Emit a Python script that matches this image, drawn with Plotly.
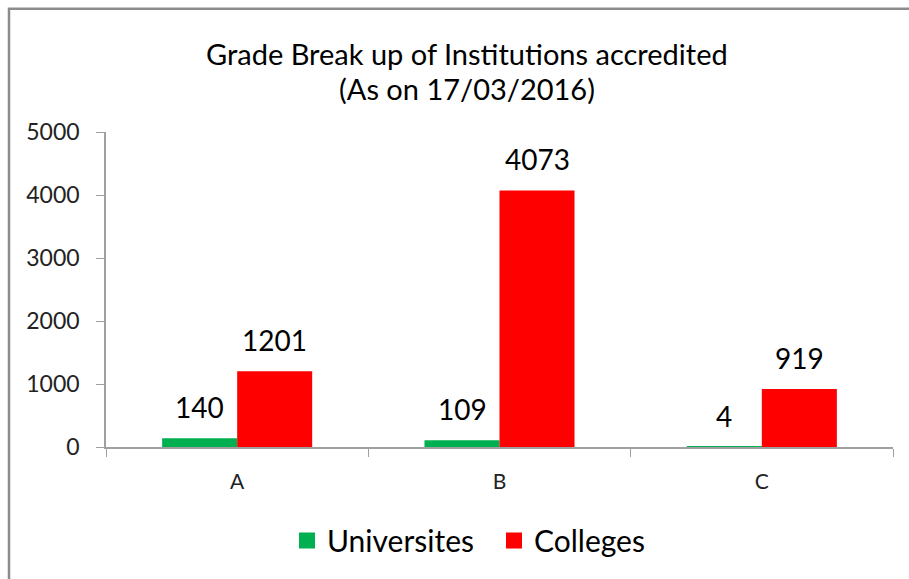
import plotly.graph_objects as go

categories = ["A", "B", "C"]
universities = [140, 109, 4]
colleges = [1201, 4073, 919]
series_names = ["Universites", "Colleges"]
series_colors = ["#00B050", "#FF0000"]
title_lines = ["Grade Break up of Institutions accredited", "(As on 17/03/2016)"]

W, H = 909, 579
L, R, T, B = 106, 16, 132, 130
pw = W - L - R
ph = H - T - B
BAR_PX = 75  # half-group offset in pixels

fig = go.Figure()
for name, vals, col in zip(series_names, [universities, colleges], series_colors):
    fig.add_trace(go.Bar(
        x=categories, y=vals, name=name, showlegend=False,
        marker=dict(color=col, line=dict(width=0)),
    ))
    # legend proxy with larger square symbol
    fig.add_trace(go.Scatter(
        x=[None], y=[None], mode="markers", name=name, showlegend=True,
        marker=dict(symbol="square", size=18, color=col),
    ))

annotations = []
for shift, vals in zip([-BAR_PX / 2, BAR_PX / 2], [universities, colleges]):
    for c, v in zip(categories, vals):
        annotations.append(dict(
            x=c, y=v, xref="x", yref="y", text=str(v), showarrow=False,
            xanchor="center", yanchor="bottom", xshift=shift, yshift=12,
            font=dict(size=28, color="black", family="Lato"),
        ))

# chart title lines as paper annotations for exact placement
for line, ypx in zip(title_lines, [53, 88]):
    annotations.append(dict(
        text=line, xref="paper", yref="paper",
        x=(467 - L) / pw, y=(H - B - ypx) / ph, xanchor="center", yanchor="middle",
        showarrow=False, align="center",
        font=dict(size=29, color="black", family="Lato"),
    ))

fig.update_layout(
    width=W, height=H,
    margin=dict(l=L, r=R, t=T, b=B),
    paper_bgcolor="white", plot_bgcolor="white",
    barmode="group", bargap=0.428, bargroupgap=0,
    font=dict(family="Lato"),
    showlegend=True,
    legend=dict(orientation="h", x=(287 - L) / pw, xanchor="left",
                y=(449 - 543) / ph, yanchor="middle",
                font=dict(size=30, color="black", family="Lato"),
                itemwidth=30, entrywidth=162, entrywidthmode="pixels",
                traceorder="normal", bgcolor="rgba(0,0,0,0)"),
    xaxis=dict(showline=True, linecolor="#A0A0A0", linewidth=1.5,
               ticks="outside", tickson="boundaries", ticklen=8, tickcolor="#A0A0A0",
               ticklabelstandoff=15,
               tickfont=dict(size=21, color="#222222"), showgrid=False),
    yaxis=dict(range=[0, 5000], dtick=1000, showline=True, linecolor="#A0A0A0", linewidth=1.5,
               ticks="outside", ticklen=8, tickcolor="#A0A0A0", ticklabelstandoff=12,
               tickfont=dict(size=23, color="#222222"), showgrid=False, zeroline=False),
    annotations=annotations,
)
# outer chart border: top edge at y=8px, left edge at x=9px, right/bottom beyond the page
x0 = (9 - L) / pw
x1 = (W + 20 - L) / pw
y0 = (B - (H + 20)) / ph
y1 = (H - 8 - B) / ph
fig.add_shape(type="rect", xref="paper", yref="paper", x0=x0, x1=x1, y0=y0, y1=y1,
              line=dict(color="#8C8C8C", width=2.5), fillcolor="rgba(0,0,0,0)", layer="below")

fig.write_html("out.html", config={"displayModeBar": False},
               post_script="document.body.style.margin='0';document.body.style.overflow='hidden';")
